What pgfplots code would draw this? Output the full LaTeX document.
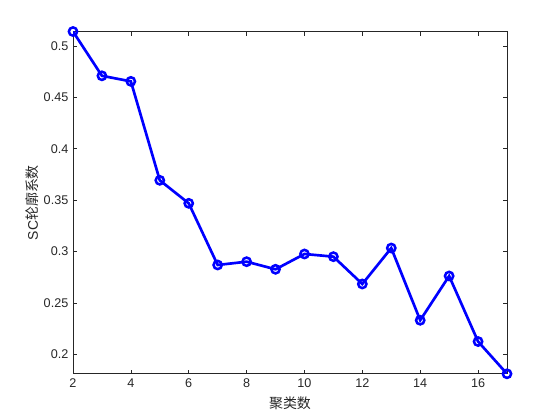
\documentclass[border=0pt]{standalone}
\usepackage{fontspec}
\setmainfont{Liberation Sans}
\newfontfamily\cjk{Noto Sans CJK SC}
\usepackage{pgfplots}
\pgfplotsset{compat=1.18}
\definecolor{axgray}{rgb}{0.15,0.15,0.15}
\begin{document}
\begin{tikzpicture}
\begin{axis}[
  at={(54.75bp,34.65bp)}, anchor=south west,
  width=325.5bp, height=256.7bp, scale only axis,
  xmin=2, xmax=17, ymin=0.181, ymax=0.5141,
  xtick={2,4,...,16}, ytick={0.2,0.25,0.3,0.35,0.4,0.45,0.5},
  yticklabels={0.2,0.25,0.3,0.35,0.4,0.45,0.5},
  tick align=inside, major tick length=3bp,
  tick style={axgray, line width=0.5bp},
  axis line style={axgray, line width=0.6bp},
  ticklabel style={font=\fontsize{9.5}{11}\selectfont, text=axgray},
  /pgf/number format/assume math mode=true,
  xlabel={\cjk 聚类数}, ylabel={SC{\cjk 轮廓系数}},
  label style={font=\fontsize{10.5}{12}\selectfont, text=axgray},
  xlabel style={at={(axis description cs:0.5,0)}, anchor=north, yshift=-14bp},
  ylabel style={at={(axis description cs:0,0.5)}, anchor=south, yshift=22bp},
]
\addplot[blue, line width=2bp, mark=o, mark size=3.1bp, mark options={line width=1.9bp}] coordinates {
(2,0.5141) (3,0.471) (4,0.4656) (5,0.3693) (6,0.3469) (7,0.2869) (8,0.2901)
(9,0.2827) (10,0.2976) (11,0.295) (12,0.2684) (13,0.3034) (14,0.2331)
(15,0.2762) (16,0.2124) (17,0.181)};
\end{axis}
\path[use as bounding box] (0,0) rectangle (420bp,315bp);
\end{tikzpicture}
\end{document}
